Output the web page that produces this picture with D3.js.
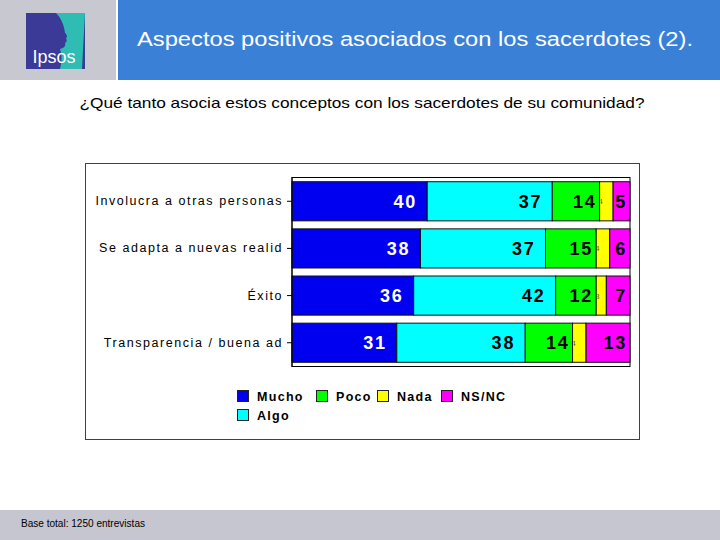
<!DOCTYPE html>
<html><head><meta charset="utf-8">
<script src="https://cdn.jsdelivr.net/npm/d3@7/dist/d3.min.js"></script>
<style>body{margin:0;background:#fff;} svg{display:block;font-family:"Liberation Sans",Arial,sans-serif;}</style>
</head><body>
<script>
const categories = ["Involucra a otras personas", "Se adapta a nuevas realid", "Éxito", "Transparencia / buena ad"];
const seriesNames = ["Mucho", "Algo", "Poco", "Nada", "NS/NC"];
const mucho = [40, 38, 36, 31];
const algo  = [37, 37, 42, 38];
const poco  = [14, 15, 12, 14];
const nada  = [4, 4, 3, 4];
const nsnc  = [5, 6, 7, 13];
const colors = ["#0000f0", "#00ffff", "#00ff00", "#ffff00", "#ff00ff"];
const labelColors = ["#ffffff", "#000000", "#000000", "#000000", "#000000"];
const xTicks = [0, 100];

const W = 720, H = 540;
const svg = d3.select("body").append("svg").attr("width", W).attr("height", H);

// header
svg.append("rect").attr("x",0).attr("y",0).attr("width",116).attr("height",80).attr("fill","#c8c8d0");
svg.append("rect").attr("x",118).attr("y",0).attr("width",602).attr("height",80).attr("fill","#3a80d6");
// logo
const lg = svg.append("g").attr("transform","translate(26,13)");
lg.append("rect").attr("width",59).attr("height",56).attr("fill","#3b3a96");
lg.append("path").attr("d","M30,0 L59,0 L56,56 L34,56 C36,48 36,42 34,36 C38,35 40,33 39,30 C41,29 41,27 40,25 C42,24 41,22 39,20 C38,12 35,5 30,0 Z").attr("fill","#2fbcb3");
lg.append("path").attr("d","M30,4 C22,4 18,11 20,18 C17,22 20,27 24,29 L26,36 L34,36 C36,33 39,32 38,29 C40,28 40,26 39,24 C41,23 40,21 38,19 C37,11 35,5 30,4 Z").attr("fill","#3b3a96");
lg.append("text").attr("x",28).attr("y",50).attr("text-anchor","middle").attr("fill","#fff")
  .attr("font-size",18).attr("font-family","'Liberation Sans',Arial,sans-serif").text("Ipsos");

svg.append("text").attr("x",415).attr("y",46).attr("text-anchor","middle").attr("fill","#fff")
  .attr("font-size",20).attr("textLength",556).attr("lengthAdjust","spacingAndGlyphs")
  .text("Aspectos positivos asociados con los sacerdotes (2).");

svg.append("text").attr("x",362).attr("y",108).attr("text-anchor","middle").attr("fill","#000")
  .attr("font-size",15).attr("textLength",565).attr("lengthAdjust","spacingAndGlyphs")
  .text("¿Qué tanto asocia estos conceptos con los sacerdotes de su comunidad?");

// footer
svg.append("rect").attr("x",0).attr("y",510).attr("width",720).attr("height",30).attr("fill","#c6c6d0");
svg.append("text").attr("x",21).attr("y",527).attr("fill","#000").attr("font-size",10)
  .attr("textLength",124).attr("lengthAdjust","spacingAndGlyphs").text("Base total: 1250 entrevistas");

// chart box
svg.append("rect").attr("x",85.5).attr("y",163.5).attr("width",554).attr("height",276)
  .attr("fill","#fff").attr("stroke","#404040").attr("stroke-width",1);

const plot = {x0:292, x1:630, y0:177, y1:367};
const x = d3.scaleLinear().domain(d3.extent(xTicks)).range([plot.x0, plot.x1]);
const y = d3.scaleBand().domain(categories).range([plot.y0, plot.y1]).paddingInner(0.17).paddingOuter(0.1);

const table = categories.map((c,i)=>({cat:c, vals:[mucho[i],algo[i],poco[i],nada[i],nsnc[i]]}));
const stackData = table.map(r=>{const o={cat:r.cat}; seriesNames.forEach((s,j)=>o[s]=r.vals[j]); return o;});
const stacked = d3.stack().keys(seriesNames)(stackData);

// plot frame
svg.append("rect").attr("x",plot.x0).attr("y",plot.y0+0.5).attr("width",plot.x1-plot.x0).attr("height",plot.y1-plot.y0-1)
  .attr("fill","#fff").attr("stroke","#000").attr("stroke-width",1);

const defs = svg.append("defs");
stacked.forEach((layer,si)=>{
  const g = svg.append("g");
  layer.forEach((d,ci)=>{
    const xs = x(d[0]), xe = x(d[1]), yy = y(d.data.cat), h = y.bandwidth();
    const w = xe - xs;
    const id = `clip-${si}-${ci}`;
    defs.append("clipPath").attr("id",id).append("rect").attr("x",xs+1).attr("y",yy).attr("width",Math.max(0,w-2)).attr("height",h);
    g.append("rect").attr("x",xs).attr("y",yy).attr("width",w).attr("height",h)
      .attr("fill",colors[si]).attr("stroke","#111").attr("stroke-width",1);
    const v = d.data[layer.key];
    if (w < 16) {
      g.append("text").attr("clip-path",`url(#${id})`)
        .attr("x",xs+1).attr("y",yy+h/2+3).attr("text-anchor","middle")
        .attr("font-size",8).attr("fill","#555").text(v);
    } else {
      const gap = w > 60 ? 10 : 3;
      g.append("text").attr("clip-path",`url(#${id})`)
        .attr("x",xe-gap).attr("y",yy+h/2+6.5).attr("text-anchor","end")
        .attr("font-size",18).attr("font-weight","bold").attr("letter-spacing",1.8)
        .attr("fill",labelColors[si]).text(v);
    }
  });
});

// y axis
const ax = svg.append("g").attr("transform",`translate(${plot.x0},0)`)
  .call(d3.axisLeft(y).tickSize(5).tickPadding(4));
ax.select(".domain").attr("stroke","#000").attr("d",`M0,${plot.y0}V${plot.y1}`);
ax.selectAll(".tick line").attr("stroke","#000");
ax.selectAll(".tick text").attr("font-size",12.5).attr("letter-spacing",1.55).attr("fill","#000")
  .attr("font-family","'Liberation Sans',Arial,sans-serif");

// legend
const legendItems = [
  {name:"Mucho", x:237, y:390, c:colors[0]},
  {name:"Poco", x:316, y:390, c:colors[2]},
  {name:"Nada", x:377, y:390, c:colors[3]},
  {name:"NS/NC", x:441, y:390, c:colors[4]},
  {name:"Algo", x:237, y:409, c:colors[1]}
];
const leg = svg.append("g");
legendItems.forEach(it=>{
  leg.append("rect").attr("x",it.x+0.5).attr("y",it.y+0.5).attr("width",11).attr("height",11)
    .attr("fill",it.c).attr("stroke","#222").attr("stroke-width",1);
  leg.append("text").attr("x",it.x+20).attr("y",it.y+11).attr("font-size",12.5).attr("font-weight","bold")
    .attr("letter-spacing",1.3).attr("fill","#000").text(it.name);
});
</script>
</body></html>
